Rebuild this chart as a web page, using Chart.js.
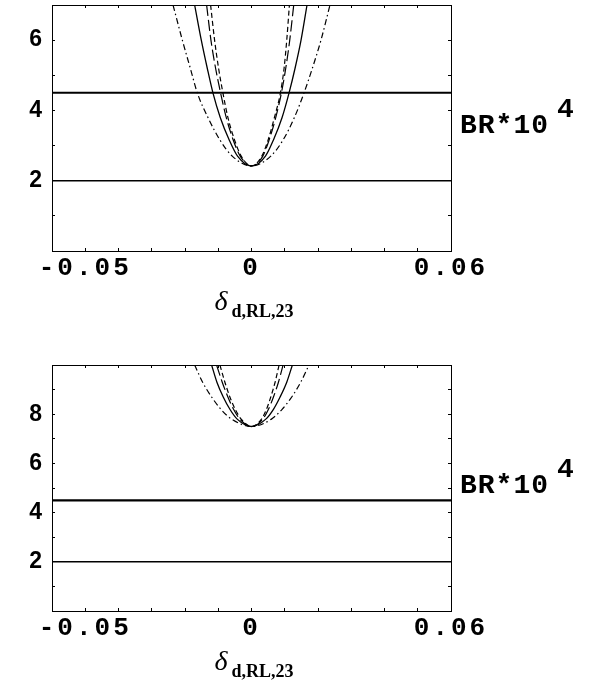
<!DOCTYPE html>
<html><head><meta charset="utf-8">
<script src="https://cdn.jsdelivr.net/npm/chart.js@4"></script>
<style>
html,body{margin:0;padding:0;background:#fff;width:598px;height:680px;overflow:hidden}
canvas{position:absolute;left:0}
#c1{top:0}
#c2{top:360px}
</style></head><body>
<canvas id="c1" width="598" height="340"></canvas>
<canvas id="c2" width="598" height="340"></canvas>
<script>
// ---- axes ----
const xRange = [-0.06, 0.06];
const xTickStep = 0.01;
const xTickLabels = ['-0.05', '0', '0.06'];
const xTickLabelValues = [-0.05, 0, 0.06];
const topYRange = [0, 7];
const topYTickLabels = [2, 4, 6];
const bottomYRange = [0, 10];
const bottomYTickLabels = [2, 4, 6, 8];
const boundLevels = [4.5, 2];
const xTitle = 'δ';
const xTitleSub = 'd,RL,23';
const yTitle = 'BR*10';
const yTitleSup = '4';

// ---- top panel curves (y levels and x positions) ----
const topLevels   = [7, 6, 5.2, 4.5, 3.8, 3.16, 2.7, 2.42, 2.7, 3.16, 3.8, 4.5, 5.2, 6, 7];
const topDashDotX = [-0.0236,-0.0208,-0.0184,-0.0163,-0.0131,-0.0095,-0.0058,0,0.0058,0.0095,0.0129,0.0158,0.0183,0.0209,0.0236];
const topSolidX   = [-0.0171,-0.0151,-0.0133,-0.0116,-0.0094,-0.0067,-0.0042,0,0.0042,0.0066,0.0092,0.0113,0.0131,0.0149,0.0167];
const topLongDashX= [-0.0135,-0.0122,-0.0108,-0.0093,-0.0076,-0.0055,-0.0034,0,0.0034,0.0053,0.0073,0.0090,0.0103,0.0115,0.0127];
const topDashedX  = [-0.0123,-0.0111,-0.0099,-0.0086,-0.0071,-0.0051,-0.0031,0,0.0031,0.0050,0.0069,0.0087,0.0098,0.0106,0.0114];

// ---- bottom panel curves ----
const botLevels   = [10, 9.3, 8.7, 8.2, 7.8, 7.5, 7.8, 8.2, 8.7, 9.3, 10];
const botDashDotX = [-0.0171,-0.0147,-0.0120,-0.0092,-0.0060,0,0.0060,0.0092,0.0121,0.0148,0.0173];
const botSolidX   = [-0.0120,-0.0104,-0.0085,-0.0065,-0.0043,0,0.0043,0.0066,0.0086,0.0106,0.0123];
const botLongDashX= [-0.0105,-0.0088,-0.0071,-0.0054,-0.0035,0,0.0034,0.0051,0.0066,0.0081,0.0095];
const botDashedX  = [-0.0095,-0.0080,-0.0065,-0.0049,-0.0031,0,0.0030,0.0045,0.0058,0.0071,0.0083];

function pts(xs, ys){ return xs.map((x,i)=>({x:x, y:ys[i]})); }

const styles = {
  dashDot:  {borderDash:[6,3,1.5,3], borderWidth:1.2},
  solid:    {borderDash:[], borderWidth:1.3},
  longDash: {borderDash:[11,4], borderWidth:1.2},
  dashed:   {borderDash:[5,3], borderWidth:1.2}
};

function curve(xs, ys, st){
  return Object.assign({data: pts(xs, ys), borderColor:'#000', pointRadius:0, fill:false,
    cubicInterpolationMode:'monotone'}, styles[st]);
}
function hline(v, w){
  return {data:[{x:xRange[0], y:v},{x:xRange[1], y:v}], borderColor:'#000', borderWidth:w, pointRadius:0, fill:false};
}

const spacingPlugin = {
  id:'spacing',
  beforeDraw(chart){ chart.ctx.letterSpacing = '3px'; },
  afterDatasetsDraw(chart){ chart.ctx.letterSpacing = '0px'; }
};

const textPlugin = {
  id:'texts',
  afterDraw(chart){
    const ctx = chart.ctx, a = chart.chartArea;
    const x0 = chart.scales.x.getPixelForValue(0);
    ctx.save();
    ctx.letterSpacing = '0px';
    ctx.fillStyle = '#000';
    ctx.textAlign = 'left';
    ctx.textBaseline = 'alphabetic';
    ctx.font = 'italic 28px "Liberation Serif"';
    ctx.fillText(xTitle, x0 - 37, a.bottom + 59);
    ctx.font = 'bold 18px "Liberation Serif"';
    ctx.fillText(xTitleSub, x0 - 20, a.bottom + 66);
    ctx.font = 'bold 28px "Liberation Mono"';
    ctx.letterSpacing = '1px';
    ctx.fillText(yTitle, a.right + 9, a.top + 128);
    ctx.fillText(yTitleSup, a.right + 106, a.top + 112);
    ctx.restore();
  }
};

function isLabel(v, list){ return list.some(t => Math.abs(t - v) < 1e-9); }

function fixSize(prop, size){
  return (s) => { s[prop] = size; s.paddingTop = 0; s.paddingBottom = 0; s.paddingLeft = 0; s.paddingRight = 0; };
}

function makeScales(yRange, yLabels){
  const grid = {drawOnChartArea:false, tickLength:-3, color:'#000', lineWidth:1};
  const border = {display:true, color:'#000', width:1};
  return {
    x: {type:'linear', position:'bottom', min:xRange[0], max:xRange[1],
      grid, border,
      ticks:{stepSize:xTickStep, maxTicksLimit:30, autoSkip:false, maxRotation:0, padding:5, color:'#000',
        font:{family:'"Liberation Mono"', weight:'bold', size:26, lineHeight:1.2},
        callback:(v)=>{ const i = xTickLabelValues.findIndex(t=>Math.abs(t-v)<1e-9); return i>=0 ? xTickLabels[i] : ''; }},
      afterFit: fixSize('height', 89)},
    x2: {type:'linear', position:'top', min:xRange[0], max:xRange[1],
      grid, border,
      ticks:{stepSize:xTickStep, maxTicksLimit:30, autoSkip:false, maxRotation:0, callback:()=>''},
      afterFit: fixSize('height', 5)},
    y: {type:'linear', position:'left', min:yRange[0], max:yRange[1],
      grid, border,
      ticks:{stepSize:1, autoSkip:false, padding:10, color:'#000',
        font:{family:'"Liberation Sans"', weight:'bold', size:23},
        callback:(v)=> isLabel(v, yLabels) ? String(v) : ''},
      afterFit: fixSize('width', 52)},
    y2: {type:'linear', position:'right', min:yRange[0], max:yRange[1],
      grid, border,
      ticks:{stepSize:1, autoSkip:false, callback:()=>''},
      afterFit: fixSize('width', 147)}
  };
}

function makeChart(id, datasets, yRange, yLabels){
  new Chart(document.getElementById(id), {
    type:'line',
    data:{datasets},
    options:{
      responsive:false, animation:false, devicePixelRatio:1,
      layout:{padding:0, autoPadding:false},
      plugins:{legend:{display:false}, tooltip:{enabled:false}},
      scales: makeScales(yRange, yLabels)
    },
    plugins:[spacingPlugin, textPlugin]
  });
}

makeChart('c1', [
  hline(boundLevels[0], 2), hline(boundLevels[1], 1.6),
  curve(topDashDotX, topLevels, 'dashDot'),
  curve(topSolidX, topLevels, 'solid'),
  curve(topLongDashX, topLevels, 'longDash'),
  curve(topDashedX, topLevels, 'dashed')
], topYRange, topYTickLabels);

makeChart('c2', [
  hline(boundLevels[0], 2.2), hline(boundLevels[1], 1.6),
  curve(botDashDotX, botLevels, 'dashDot'),
  curve(botSolidX, botLevels, 'solid'),
  curve(botLongDashX, botLevels, 'longDash'),
  curve(botDashedX, botLevels, 'dashed')
], bottomYRange, bottomYTickLabels);
</script>
</body></html>
